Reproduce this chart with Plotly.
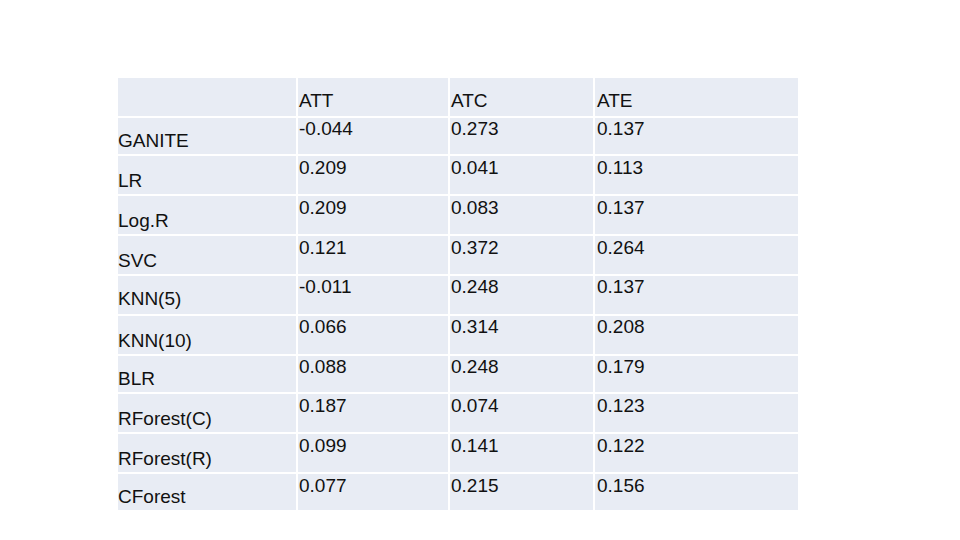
import plotly.graph_objects as go

methods = ["GANITE", "LR", "Log.R", "SVC", "KNN(5)", "KNN(10)", "BLR",
           "RForest(C)", "RForest(R)", "CForest"]
headers = ["ATT", "ATC", "ATE"]
att = [-0.044, 0.209, 0.209, 0.121, -0.011, 0.066, 0.088, 0.187, 0.099, 0.077]
atc = [0.273, 0.041, 0.083, 0.372, 0.248, 0.314, 0.248, 0.074, 0.141, 0.215]
ate = [0.137, 0.113, 0.137, 0.264, 0.137, 0.208, 0.179, 0.123, 0.122, 0.156]

# layout geometry (pixels)
x_edges = [118, 298, 450, 595, 800]
y_edges = [77, 117, 155, 195, 235, 275, 315, 355, 393, 433, 473, 511]
col_text_x = [119, 300, 452, 598]
label_y = [142, 182, 222, 262, 300, 342, 380, 420, 460, 498]
header_y = 102
value_y = [130, 169, 209, 249, 288, 328, 368, 407, 447, 487]

font = dict(family="Liberation Sans, Arial", size=19, color="#111111")

fig = go.Figure()
nrows = len(y_edges) - 1
ncols = len(x_edges) - 1
fig.add_trace(go.Heatmap(
    x=x_edges, y=y_edges, z=[[1] * ncols for _ in range(nrows)],
    colorscale=[[0, "#E8ECF4"], [1, "#E8ECF4"]], showscale=False,
    xgap=2, ygap=2, hoverinfo="skip"))

fig.add_trace(go.Scatter(x=[col_text_x[0]] * len(methods), y=label_y, text=methods,
                         mode="text", textposition="middle right", textfont=font,
                         hoverinfo="skip"))
for i, (h, vals) in enumerate(zip(headers, [att, atc, ate])):
    fig.add_trace(go.Scatter(x=[col_text_x[i + 1]], y=[header_y], text=[h],
                             mode="text", textposition="middle right", textfont=font,
                             hoverinfo="skip"))
    fig.add_trace(go.Scatter(x=[col_text_x[i + 1]] * len(vals), y=value_y,
                             text=[f"{v:.3f}" for v in vals],
                             mode="text", textposition="middle right", textfont=font,
                             hoverinfo="skip"))

fig.update_layout(width=960, height=540, margin=dict(l=0, r=0, t=0, b=0),
                  paper_bgcolor="white", plot_bgcolor="white", showlegend=False)
fig.update_xaxes(range=[9, 969], visible=False, fixedrange=True)
fig.update_yaxes(range=[548, 8], visible=False, fixedrange=True)
fig.write_html("out.html")
